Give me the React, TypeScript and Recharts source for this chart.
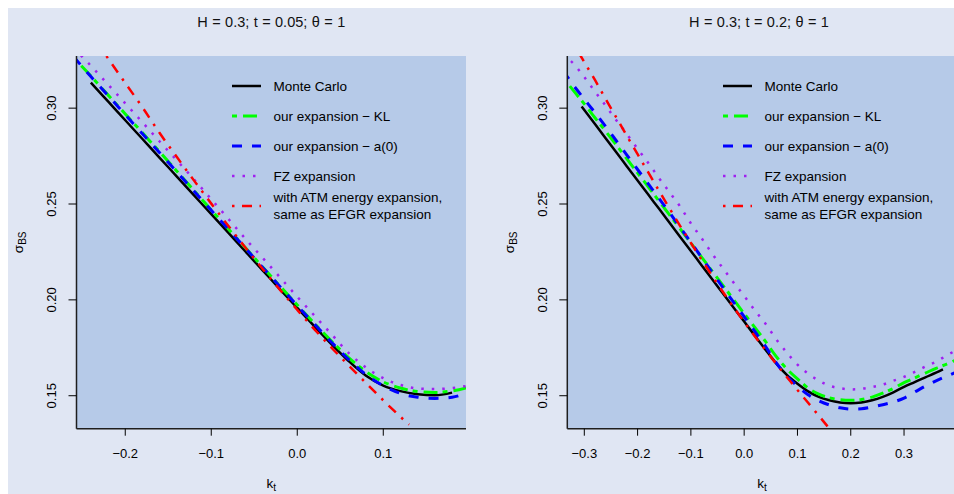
import React from 'react';
import { LineChart, Line, XAxis, YAxis, CartesianGrid, Legend, Label } from 'recharts';

const FONT = '"Liberation Sans", Arial, Helvetica, sans-serif';
const OUTER_BG = '#e0e6f3';
const PLOT_BG = '#b6cae8';
const FRAME = '#1e1e1e';

const Y_TICKS = [0.15, 0.2, 0.25, 0.3];
const Y_DOMAIN: [number, number] = [0.1328, 0.3272];

// ---------- left panel: H = 0.3; t = 0.05 ----------
const leftTitle = 'H = 0.3; t = 0.05; θ = 1';
const leftXDomain: [number, number] = [-0.2567, 0.1962];
const leftXTicks = [-0.2, -0.1, 0, 0.1];
const leftK = [-0.26, -0.24, -0.22, -0.2, -0.18, -0.16, -0.14, -0.12, -0.1, -0.08, -0.06, -0.04, -0.02, 0, 0.02, 0.04, 0.06, 0.08, 0.1, 0.12, 0.14, 0.16, 0.18, 0.2];
const leftMC = [null, 0.3133, 0.3035, 0.2937, 0.2839, 0.2741, 0.2643, 0.2545, 0.2447, 0.2349, 0.2251, 0.2153, 0.2055, 0.1958, 0.1862, 0.1768, 0.168, 0.1604, 0.1553, 0.1524, 0.1508, 0.1502, 0.1516, null];
const leftKL = [0.3262, 0.3168, 0.3068, 0.297, 0.2871, 0.2772, 0.2671, 0.257, 0.2469, 0.2369, 0.227, 0.217, 0.2071, 0.1973, 0.1877, 0.1784, 0.1698, 0.1625, 0.1572, 0.154, 0.1522, 0.1517, 0.1525, 0.1545];
const leftA0 = [0.3268, 0.3165, 0.3066, 0.2966, 0.2866, 0.2767, 0.2667, 0.2567, 0.2467, 0.2367, 0.2268, 0.2168, 0.2069, 0.197, 0.1873, 0.1778, 0.1688, 0.161, 0.1552, 0.1512, 0.1492, 0.1486, 0.1492, 0.152];
const leftFZ = [0.3315, 0.3221, 0.3123, 0.3025, 0.2926, 0.2826, 0.2727, 0.2628, 0.2525, 0.2422, 0.2317, 0.2218, 0.2117, 0.2016, 0.1918, 0.182, 0.1722, 0.1647, 0.1592, 0.1556, 0.1538, 0.1535, 0.154, 0.1553];
const leftAtmK = [-0.24, -0.22, -0.2, -0.18, -0.16, -0.14, -0.12, -0.1, -0.08, -0.06, -0.04, -0.02, 0, 0.02, 0.04, 0.06, 0.08, 0.1, 0.12, 0.13];
const leftAtm = [0.339, 0.3259, 0.3131, 0.3004, 0.287, 0.2745, 0.2622, 0.2502, 0.2385, 0.2271, 0.216, 0.2052, 0.1948, 0.1846, 0.175, 0.1657, 0.1566, 0.1476, 0.139, 0.1349];

// ---------- right panel: H = 0.3; t = 0.2 ----------
const rightTitle = 'H = 0.3; t = 0.2; θ = 1';
const rightXDomain: [number, number] = [-0.3319, 0.399];
const rightXTicks = [-0.3, -0.2, -0.1, 0, 0.1, 0.2, 0.3];
const rightK = [-0.34, -0.32, -0.3, -0.28, -0.26, -0.24, -0.22, -0.2, -0.18, -0.16, -0.14, -0.12, -0.1, -0.08, -0.06, -0.04, -0.02, 0, 0.02, 0.04, 0.06, 0.08, 0.1, 0.12, 0.14, 0.16, 0.18, 0.2, 0.22, 0.24, 0.26, 0.28, 0.3, 0.32, 0.34, 0.36, 0.38, 0.4];
const rightMcK = [-0.305, -0.28, -0.26, -0.24, -0.22, -0.2, -0.18, -0.16, -0.14, -0.12, -0.1, -0.08, -0.06, -0.04, -0.02, 0, 0.02, 0.04, 0.06, 0.08, 0.1, 0.12, 0.14, 0.16, 0.18, 0.2, 0.22, 0.24, 0.26, 0.28, 0.3, 0.32, 0.34, 0.36, 0.373];
const rightMC = [0.3009, 0.2917, 0.2843, 0.277, 0.2696, 0.2623, 0.2549, 0.2476, 0.2402, 0.2328, 0.2255, 0.2181, 0.2108, 0.2034, 0.196, 0.1887, 0.1813, 0.174, 0.1669, 0.1609, 0.1563, 0.1523, 0.1494, 0.1476, 0.1465, 0.1461, 0.1465, 0.1476, 0.1494, 0.1518, 0.1546, 0.1571, 0.1596, 0.162, 0.1637];
const rightKL = [0.316, 0.309, 0.3022, 0.295, 0.288, 0.2808, 0.2735, 0.2662, 0.259, 0.2516, 0.2443, 0.237, 0.2296, 0.2223, 0.215, 0.2076, 0.2002, 0.1928, 0.1856, 0.1783, 0.1705, 0.164, 0.1588, 0.154, 0.1508, 0.1489, 0.1479, 0.1476, 0.148, 0.1493, 0.1513, 0.1538, 0.1568, 0.1593, 0.1618, 0.1643, 0.1665, 0.169];
const rightA0 = [0.3195, 0.3118, 0.3047, 0.2977, 0.2905, 0.283, 0.2755, 0.268, 0.2605, 0.253, 0.2455, 0.2377, 0.23, 0.2222, 0.2143, 0.2065, 0.1988, 0.1912, 0.1835, 0.1757, 0.1672, 0.1602, 0.155, 0.1505, 0.1474, 0.1452, 0.1437, 0.143, 0.1432, 0.1441, 0.1453, 0.1467, 0.1488, 0.1519, 0.155, 0.1578, 0.1602, 0.1625];
const rightFZ = [0.328, 0.3231, 0.3162, 0.3087, 0.3013, 0.2937, 0.2864, 0.2788, 0.2714, 0.2636, 0.2561, 0.2486, 0.2399, 0.2322, 0.2241, 0.2165, 0.2091, 0.2021, 0.1945, 0.1876, 0.1795, 0.1725, 0.1662, 0.1615, 0.1579, 0.1552, 0.1539, 0.1533, 0.1536, 0.1545, 0.1558, 0.1578, 0.1598, 0.1624, 0.1652, 0.1677, 0.171, 0.174];
const rightAtmK = [-0.32, -0.3, -0.28, -0.26, -0.24, -0.22, -0.2, -0.18, -0.16, -0.14, -0.12, -0.1, -0.08, -0.06, -0.04, -0.02, 0, 0.02, 0.04, 0.06, 0.08, 0.1, 0.12, 0.14, 0.16];
const rightAtm = [0.3335, 0.324, 0.3147, 0.3048, 0.2952, 0.2855, 0.276, 0.2665, 0.257, 0.2477, 0.2385, 0.2297, 0.221, 0.2125, 0.2042, 0.1962, 0.1885, 0.181, 0.1738, 0.1667, 0.1598, 0.153, 0.1463, 0.1396, 0.1328];

// ---------- series styles / legend ----------
const seriesNames = ['Monte Carlo', 'our expansion − KL', 'our expansion − a(0)', 'FZ expansion', 'with ATM energy expansion,\nsame as EFGR expansion'];
const seriesColors = ['#000000', '#00ff00', '#0000ff', '#a020f0', '#ff0000'];
const seriesDash = [undefined, '5 6 14 5', '10 10', '2.5 8', '2.5 7.5 10 7.5'];
const seriesWidth = [2.5, 3, 3, 2.5, 2.5];

type Pt = { x: number; y: number };
const zip = (xs: number[], ys: (number | null)[]): Pt[] =>
  xs.map((x, i) => ({ x, y: ys[i] as number })).filter((p) => p.y !== null && p.y !== undefined);

const fmtX = (v: number) => {
  const s = Math.abs(v) < 1e-9 ? '0.0' : v.toFixed(1);
  return s.replace('-', '\u2212');
};

const YTick = (props: any) => {
  const { x, y, payload } = props;
  return (
    <text x={x} y={y} transform={`rotate(-90, ${x}, ${y})`} textAnchor="middle" fontSize={13} fill="#000">
      {Number(payload.value).toFixed(2)}
    </text>
  );
};

const XLabel = (props: any) => {
  const vb = props.viewBox || {};
  const cx = vb.x + vb.width / 2;
  const y = vb.y + 59.3;
  return (
    <text x={cx} y={y} textAnchor="middle" fontSize={13.5} fill="#000">
      k<tspan fontSize={10} dy={3}>t</tspan>
    </text>
  );
};

const YLabel = (props: any) => {
  const vb = props.viewBox || {};
  const x = vb.x + vb.width - 53.4;
  const cy = vb.y + vb.height / 2;
  return (
    <text x={x} y={cy} transform={`rotate(-90, ${x}, ${cy})`} textAnchor="middle" fontSize={13.5} fill="#000">
      σ<tspan fontSize={10} dy={3}>BS</tspan>
    </text>
  );
};

const LegendContent = () => (
  <svg width={260} height={165} style={{ overflow: 'visible', display: 'block' }}>
    {seriesNames.map((name, i) => {
      const cy = 15 + 30 * i;
      const lines = name.split('\n');
      return (
        <g key={i}>
          <line x1={0} x2={29} y1={cy} y2={cy} stroke={seriesColors[i]} strokeWidth={seriesWidth[i]} strokeDasharray={seriesDash[i]} />
          {lines.map((t, j) => {
            const c = cy + (j - (lines.length - 1) / 2) * 16.7;
            return (
              <text key={j} x={41.6} y={c + 4.8} fontSize={13.5} fill="#000">
                {t}
              </text>
            );
          })}
        </g>
      );
    })}
  </svg>
);

type PanelProps = {
  offsetX: number;
  title: string;
  titleCenter: number;
  xDomain: [number, number];
  xTicks: number[];
  marginLeft: number;
  marginRight: number;
  legendLeft: number;
  series: Pt[][];
};

const Panel = ({ offsetX, title, titleCenter, xDomain, xTicks, marginLeft, marginRight, legendLeft, series }: PanelProps) => (
  <div style={{ position: 'absolute', left: offsetX, top: 0, width: 477, height: 486 }}>
    <div
      style={{
        position: 'absolute',
        left: titleCenter - 200,
        width: 400,
        top: 7.2,
        fontSize: 14.5,
        lineHeight: '14.5px',
        wordSpacing: 0.4,
        textAlign: 'center',
        color: '#111',
        whiteSpace: 'nowrap',
      }}
    >
      {title}
    </div>
    <LineChart width={477} height={486} margin={{ top: 48, right: marginRight, bottom: 25.3, left: marginLeft }}>
      <CartesianGrid fill={PLOT_BG} stroke="none" horizontal={false} vertical={false} />
      <XAxis
        type="number"
        dataKey="x"
        domain={xDomain}
        allowDataOverflow
        ticks={xTicks}
        interval={0}
        tickFormatter={fmtX}
        height={40}
        tickSize={7}
        tickMargin={13}
        tick={{ fill: '#000', fontSize: 13 }}
        tickLine={{ stroke: '#000', strokeWidth: 1 }}
        axisLine={{ stroke: FRAME, strokeWidth: 1.5 }}
      >
        <Label content={XLabel} />
      </XAxis>
      <XAxis
        xAxisId="top"
        orientation="top"
        type="number"
        dataKey="x"
        domain={xDomain}
        allowDataOverflow
        height={0}
        tick={false}
        tickLine={false}
        axisLine={{ stroke: FRAME, strokeWidth: 1.5 }}
      />
      <YAxis
        type="number"
        domain={Y_DOMAIN}
        allowDataOverflow
        ticks={Y_TICKS}
        interval={0}
        width={60}
        tickSize={8}
        tickMargin={12}
        tick={<YTick />}
        tickLine={{ stroke: '#000', strokeWidth: 1 }}
        axisLine={{ stroke: FRAME, strokeWidth: 1.5 }}
      >
        <Label content={YLabel} />
      </YAxis>
      <YAxis
        yAxisId="right"
        orientation="right"
        type="number"
        domain={Y_DOMAIN}
        allowDataOverflow
        width={0}
        tick={false}
        tickLine={false}
        axisLine={{ stroke: FRAME, strokeWidth: 1.5 }}
      />
      {series.map((pts, i) => (
        <Line
          key={i}
          data={pts}
          dataKey="y"
          name={seriesNames[i]}
          type="monotone"
          stroke={seriesColors[i]}
          strokeWidth={seriesWidth[i]}
          strokeDasharray={seriesDash[i]}
          dot={false}
          activeDot={false}
          isAnimationActive={false}
        />
      ))}
      <Legend
        layout="vertical"
        align="center"
        verticalAlign="middle"
        width={260}
        height={165}
        wrapperStyle={{ left: legendLeft, top: 63, width: 260, height: 165 }}
        content={LegendContent}
      />
    </LineChart>
  </div>
);

export default function App() {
  const leftSeries = [zip(leftK, leftMC), zip(leftK, leftKL), zip(leftK, leftA0), zip(leftK, leftFZ), zip(leftAtmK, leftAtm)];
  const rightSeries = [zip(rightMcK, rightMC), zip(rightK, rightKL), zip(rightK, rightA0), zip(rightK, rightFZ), zip(rightAtmK, rightAtm)];
  return (
    <div style={{ position: 'relative', width: 954, height: 494, overflow: 'hidden', background: '#ffffff' }}>
      <style>{'html,body{margin:0;padding:0;overflow:hidden;}'}</style>
      <div
        style={{
          position: 'absolute',
          left: 8,
          top: 8,
          width: 946,
          height: 486,
          background: OUTER_BG,
          overflow: 'hidden',
          fontFamily: FONT,
        }}
      >
        <Panel
          offsetX={0}
          title={leftTitle}
          titleCenter={263.25}
          xDomain={leftXDomain}
          xTicks={leftXTicks}
          marginLeft={8.5}
          marginRight={19}
          legendLeft={223.7}
          series={leftSeries}
        />
        <Panel
          offsetX={477}
          title={rightTitle}
          titleCenter={274}
          xDomain={rightXDomain}
          xTicks={rightXTicks}
          marginLeft={22.3}
          marginRight={5.2}
          legendLeft={237.7}
          series={rightSeries}
        />
      </div>
    </div>
  );
}
